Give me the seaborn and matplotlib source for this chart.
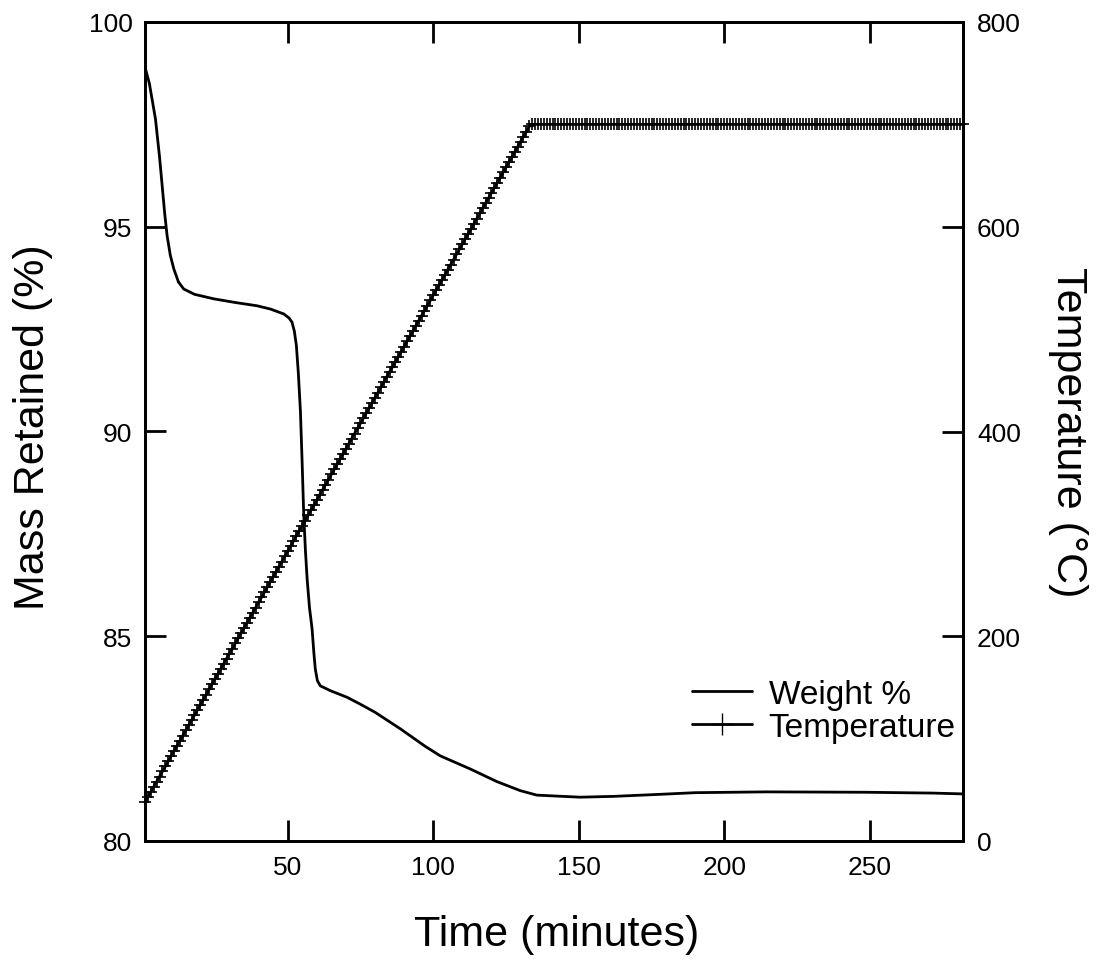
import numpy as np
import pandas as pd
import matplotlib
matplotlib.use("Agg")
import matplotlib.pyplot as plt
from matplotlib.lines import Line2D
import seaborn as sns

# ---------------- data ----------------
# Weight % curve (time in minutes, mass retained in %)
weight_time = [1.0, 2.5, 4.6, 6.0, 6.9, 7.8, 8.6, 9.7, 10.9, 12.5, 14.3, 18.0,
               24.6, 32.0, 39.5, 44.1, 48.7, 50.5, 51.5, 52.3, 53.0, 53.7, 54.4,
               55.0, 55.5, 56.1, 56.7, 57.5, 58.4, 59.0, 59.5, 60.2, 61.2, 64.7,
               70.4, 75.0, 80.1, 88.7, 97.3, 102.4, 112.7, 121.9, 129.9, 135.6,
               150.5, 162.0, 178.0, 190.0, 214.5, 249.0, 271.6, 282.0]
weight_pct = [98.9, 98.5, 97.63, 96.7, 96.0, 95.3, 94.78, 94.3, 93.97, 93.65,
              93.48, 93.35, 93.24, 93.15, 93.07, 92.99, 92.87, 92.77, 92.67,
              92.45, 92.1, 91.4, 90.48, 89.2, 88.03, 87.1, 86.4, 85.7, 85.18,
              84.6, 84.2, 83.92, 83.79, 83.67, 83.51, 83.34, 83.14, 82.74,
              82.31, 82.08, 81.76, 81.45, 81.23, 81.12, 81.07, 81.09, 81.14,
              81.18, 81.2, 81.19, 81.17, 81.15]

# Temperature (deg C), one reading per minute from t = 1 to t = 282
temp_time = np.arange(1, 283)
temp_c = [
    38, 43, 48, 53, 58, 63, 68, 73, 78, 83, 88, 93, 98, 103, 108, 113, 118, 123, 128, 133,
    138, 143, 148, 153, 158, 163, 168, 173, 178, 183, 188, 193, 198, 203, 208, 213, 218, 223, 228, 233,
    238, 243, 248, 253, 258, 263, 268, 273, 278, 283, 288, 293, 298, 303, 308, 313, 318, 323, 328, 333,
    338, 343, 348, 353, 358, 363, 368, 373, 378, 383, 388, 393, 398, 403, 408, 413, 418, 423, 428, 433,
    438, 443, 448, 453, 458, 463, 468, 473, 478, 483, 488, 493, 498, 503, 508, 513, 518, 523, 528, 533,
    538, 543, 548, 553, 558, 563, 568, 573, 578, 583, 588, 593, 598, 603, 608, 613, 618, 623, 628, 633,
    638, 643, 648, 653, 658, 663, 668, 673, 678, 683, 688, 693, 698,
    700, 700, 700, 700, 700, 700, 700, 700, 700, 700, 700, 700, 700, 700, 700, 700, 700, 700, 700, 700,
    700, 700, 700, 700, 700, 700, 700, 700, 700, 700, 700, 700, 700, 700, 700, 700, 700, 700, 700, 700,
    700, 700, 700, 700, 700, 700, 700, 700, 700, 700, 700, 700, 700, 700, 700, 700, 700, 700, 700, 700,
    700, 700, 700, 700, 700, 700, 700, 700, 700, 700, 700, 700, 700, 700, 700, 700, 700, 700, 700, 700,
    700, 700, 700, 700, 700, 700, 700, 700, 700, 700, 700, 700, 700, 700, 700, 700, 700, 700, 700, 700,
    700, 700, 700, 700, 700, 700, 700, 700, 700, 700, 700, 700, 700, 700, 700, 700, 700, 700, 700, 700,
    700, 700, 700, 700, 700, 700, 700, 700, 700, 700, 700, 700, 700, 700, 700, 700, 700, 700, 700, 700,
    700, 700, 700, 700, 700, 700, 700, 700, 700,
]

x_ticks = [50, 100, 150, 200, 250]
y_left_ticks = [80, 85, 90, 95, 100]
y_right_ticks = [0, 200, 400, 600, 800]

x_label = "Time (minutes)"
y_left_label = "Mass Retained (%)"
y_right_label = "Temperature (°C)"
legend_labels = ["Weight %", "Temperature"]

# ---------------- style ----------------
sns.set_style("white")
plt.rcParams["font.family"] = ["Liberation Sans", "DejaVu Sans"]
plt.rcParams["text.color"] = "black"
plt.rcParams["axes.labelcolor"] = "black"
plt.rcParams["xtick.color"] = "black"
plt.rcParams["ytick.color"] = "black"

weight_df = pd.DataFrame({"time": weight_time, "weight": weight_pct})
temp_df = pd.DataFrame({"time": temp_time, "temp": temp_c})

fig = plt.figure(figsize=(11.01, 9.78), dpi=100)
ax = fig.add_axes([145 / 1101, 1 - 842 / 978, 818 / 1101, 819 / 978])
ax2 = ax.twinx()

sns.lineplot(data=weight_df, x="time", y="weight", ax=ax, color="black",
             linewidth=2.0, sort=False, estimator=None)
sns.lineplot(data=temp_df, x="time", y="temp", ax=ax2, color="black",
             linewidth=2.0, marker="+", markersize=9, markeredgewidth=1.2,
             markeredgecolor="black", markerfacecolor="black",
             sort=False, estimator=None, clip_on=False)

ax.set_xlim(1, 282)
ax.set_ylim(80, 100)
ax2.set_ylim(0, 800)

ax.set_xticks(x_ticks)
ax.set_yticks(y_left_ticks)
ax2.set_yticks(y_right_ticks)

ax.set_xlabel("")
ax.set_ylabel("")
ax2.set_ylabel("")

for a in (ax, ax2):
    for s in a.spines.values():
        s.set_visible(True)
        s.set_linewidth(2.0)
        s.set_color("black")

ax.tick_params(axis="x", which="major", direction="in", length=15, width=2.0,
               top=True, bottom=True, labelsize=19, pad=10, colors="black")
ax.tick_params(axis="y", which="major", direction="in", length=15, width=2.0,
               left=True, right=False, labelsize=19, pad=9, colors="black")
ax2.tick_params(axis="y", which="major", direction="in", length=15, width=2.0,
                right=True, left=False, labelsize=19, pad=10, colors="black")

fig.text(33 / 1101, 1 - 427 / 978, y_left_label, rotation=90, ha="center",
         va="center", fontsize=31, color="black")
fig.text(1068 / 1101, 1 - 432 / 978, y_right_label, rotation=270, ha="center",
         va="center", fontsize=31, color="black")
fig.text(557 / 1101, 1 - 935 / 978, x_label, ha="center", va="center",
         fontsize=31, color="black")

handles = [
    Line2D([], [], color="black", linewidth=2.0),
    Line2D([], [], color="black", linewidth=2.0, marker="+", markersize=16,
           markeredgewidth=1.0, markeredgecolor="black"),
]
leg = ax.legend(handles, legend_labels, loc="lower right",
                bbox_to_anchor=(0.991, 0.12), frameon=False, fontsize=24,
                handlelength=1.8, handletextpad=0.5, labelspacing=0.05,
                borderpad=0, borderaxespad=0)
for t in leg.get_texts():
    t.set_color("black")

fig.savefig("out.png", dpi=100)
